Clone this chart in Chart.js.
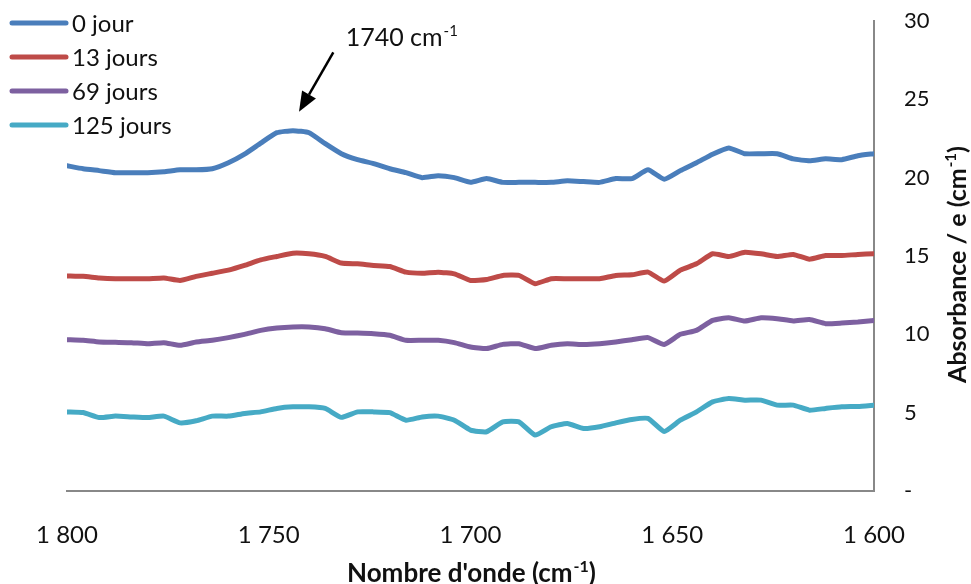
<!DOCTYPE html>
<html>
<head>
<meta charset="utf-8">
<script src="https://cdn.jsdelivr.net/npm/chart.js@4.4.0/dist/chart.umd.min.js"></script>
<style>
  html, body { margin: 0; padding: 0; background: #ffffff; }
  #wrap { width: 971px; height: 584px; }
</style>
</head>
<body>
<div id="wrap"><canvas id="spectraChart" width="971" height="584"></canvas></div>
<script>
// Wavenumbers in cm-1 (read every 4 cm-1, from 1800 down to 1600)
const wavenumbers = [
  1800, 1796, 1792, 1788, 1784, 1780, 1776, 1772, 1768, 1764,
  1760, 1756, 1752, 1748, 1744, 1740, 1736, 1732, 1728, 1724,
  1720, 1716, 1712, 1708, 1704, 1700, 1696, 1692, 1688, 1684,
  1680, 1676, 1672, 1668, 1664, 1660, 1656, 1652, 1648, 1644,
  1640, 1636, 1632, 1628, 1624, 1620, 1616, 1612, 1608, 1604, 1600
];

// Absorbance / e, one array per ageing time
const day0 = [
  20.76, 20.57, 20.45, 20.32, 20.32, 20.32, 20.38, 20.50, 20.50, 20.57,
  20.95, 21.50, 22.20, 22.87, 23.00, 22.87, 22.17, 21.53, 21.15, 20.90,
  20.57, 20.32, 20.00, 20.13, 20.00, 19.70, 19.94, 19.70, 19.70, 19.70,
  19.70, 19.80, 19.75, 19.70, 19.94, 19.94, 20.50, 19.90, 20.45, 20.95,
  21.50, 21.90, 21.53, 21.53, 21.53, 21.20, 21.08, 21.20, 21.15, 21.40, 21.53
];
const day13 = [
  13.73, 13.70, 13.60, 13.55, 13.55, 13.55, 13.60, 13.44, 13.70, 13.90,
  14.10, 14.40, 14.75, 14.97, 15.18, 15.14, 14.97, 14.55, 14.50, 14.40,
  14.33, 13.97, 13.90, 13.97, 13.86, 13.44, 13.50, 13.76, 13.76, 13.23,
  13.55, 13.55, 13.55, 13.55, 13.76, 13.80, 13.97, 13.40, 14.10, 14.50,
  15.14, 14.97, 15.24, 15.14, 14.97, 15.10, 14.80, 15.03, 15.03, 15.10, 15.14
];
const day69 = [
  9.66, 9.62, 9.51, 9.49, 9.47, 9.40, 9.47, 9.30, 9.51, 9.62,
  9.79, 10.00, 10.25, 10.40, 10.47, 10.47, 10.36, 10.10, 10.08, 10.04,
  9.94, 9.62, 9.62, 9.62, 9.47, 9.19, 9.09, 9.36, 9.40, 9.09,
  9.30, 9.40, 9.35, 9.40, 9.51, 9.66, 9.79, 9.35, 10.00, 10.25,
  10.89, 11.06, 10.85, 11.06, 11.00, 10.85, 10.94, 10.68, 10.72, 10.79, 10.89
];
const day125 = [
  5.05, 5.01, 4.69, 4.78, 4.73, 4.69, 4.78, 4.35, 4.48, 4.78,
  4.78, 4.95, 5.05, 5.27, 5.37, 5.37, 5.27, 4.70, 5.05, 5.05,
  5.00, 4.52, 4.73, 4.78, 4.52, 3.89, 3.78, 4.41, 4.41, 3.57,
  4.10, 4.31, 3.99, 4.10, 4.35, 4.57, 4.63, 3.80, 4.52, 5.05,
  5.69, 5.90, 5.80, 5.80, 5.48, 5.48, 5.16, 5.27, 5.37, 5.40, 5.48
];

const seriesLabels = ['0 jour', '13 jours', '69 jours', '125 jours'];
const seriesColors = ['#4a7ebb', '#be4b48', '#7d60a0', '#46aac5'];

// Annotation: arrow pointing at the carbonyl peak
const peakLabel = '1740';
const arrowTip = { x: 1742.5, y: 24.2 };
const arrowTail = { x: 1734, y: 28.0 };

const FONT = 'Lato, "Open Sans", "DejaVu Sans", sans-serif';

// format 1800 -> "1 800"
function frNumber(v) {
  return String(v).replace(/\B(?=(\d{3})+(?!\d))/g, ' ');
}

// draw text with a "-1" superscript after it, centred on x
function drawWithSup(ctx, main, sup, tail, x, y, size, weight) {
  ctx.font = weight + ' ' + size + 'px ' + FONT;
  const wMain = ctx.measureText(main).width;
  const wTail = ctx.measureText(tail).width;
  ctx.font = weight + ' ' + Math.round(size * 0.6) + 'px ' + FONT;
  const wSup = ctx.measureText(sup).width;
  let left = x - (wMain + wSup + wTail) / 2;
  ctx.textAlign = 'left';
  ctx.textBaseline = 'alphabetic';
  ctx.font = weight + ' ' + size + 'px ' + FONT;
  ctx.fillText(main, left, y);
  ctx.font = weight + ' ' + Math.round(size * 0.6) + 'px ' + FONT;
  ctx.fillText(sup, left + wMain + 1, y - size * 0.4);
  ctx.font = weight + ' ' + size + 'px ' + FONT;
  ctx.fillText(tail, left + wMain + wSup + 1, y);
}

// legend, annotation and axis titles drawn on top of the chart
const overlay = {
  id: 'overlay',
  afterDraw(chart) {
    const ctx = chart.ctx;
    const xs = chart.scales.x;
    const ys = chart.scales.y;
    ctx.save();

    // legend in the top left corner
    chart.data.datasets.forEach((ds, i) => {
      const ly = 23 + i * 34;
      ctx.strokeStyle = ds.borderColor;
      ctx.lineWidth = 5;
      ctx.lineCap = 'round';
      ctx.beginPath();
      ctx.moveTo(12, ly);
      ctx.lineTo(66, ly);
      ctx.stroke();
      ctx.fillStyle = '#111';
      ctx.font = '24px ' + FONT;
      ctx.textAlign = 'left';
      ctx.textBaseline = 'middle';
      ctx.fillText(ds.label, 72, ly + 1);
    });

    // arrow + label
    const tx = xs.getPixelForValue(arrowTip.x);
    const ty = ys.getPixelForValue(arrowTip.y);
    const sx = xs.getPixelForValue(arrowTail.x);
    const sy = ys.getPixelForValue(arrowTail.y);
    const ang = Math.atan2(ty - sy, tx - sx);
    const headLen = 20, headW = 8;
    const bx = tx - headLen * Math.cos(ang);
    const by = ty - headLen * Math.sin(ang);
    ctx.strokeStyle = '#000';
    ctx.fillStyle = '#000';
    ctx.lineWidth = 2.5;
    ctx.lineCap = 'butt';
    ctx.beginPath();
    ctx.moveTo(sx, sy);
    ctx.lineTo(bx, by);
    ctx.stroke();
    ctx.beginPath();
    ctx.moveTo(tx, ty);
    ctx.lineTo(bx + headW * Math.sin(ang), by - headW * Math.cos(ang));
    ctx.lineTo(bx - headW * Math.sin(ang), by + headW * Math.cos(ang));
    ctx.closePath();
    ctx.fill();
    ctx.fillStyle = '#111';
    drawWithSup(ctx, peakLabel + ' cm', '-1', '', sx + 68, sy - 6, 25, 'normal');

    // x axis title
    ctx.fillStyle = '#111';
    drawWithSup(ctx, "Nombre d'onde (cm", '-1', ')', 471, 582, 26, 'bold');

    // y axis title, rotated, reading bottom to top
    ctx.translate(957, 265);
    ctx.rotate(-Math.PI / 2);
    drawWithSup(ctx, 'Absorbance / e (cm', '-1', ')', 0, 9, 25, 'bold');

    ctx.restore();
  }
};

const datasets = [day0, day13, day69, day125].map((vals, i) => ({
  label: seriesLabels[i],
  data: wavenumbers.map((w, j) => ({ x: w, y: vals[j] })),
  borderColor: seriesColors[i],
  backgroundColor: seriesColors[i],
  borderWidth: 5,
  borderCapStyle: 'round',
  borderJoinStyle: 'round',
  pointRadius: 0,
  tension: 0.15,
  fill: false
}));

const ctx = document.getElementById('spectraChart').getContext('2d');
new Chart(ctx, {
  type: 'line',
  data: { datasets },
  options: {
    responsive: false,
    animation: false,
    layout: { padding: { left: 67, top: 21, right: 0, bottom: 0 } },
    plugins: {
      legend: { display: false },
      tooltip: { enabled: false }
    },
    scales: {
      x: {
        type: 'linear',
        reverse: true,
        min: 1600,
        max: 1800,
        afterFit: (s) => { s.height = 93; },
        grid: { display: false, drawTicks: false },
        border: { display: true, color: '#888', width: 2 },
        ticks: {
          stepSize: 50,
          padding: 30,
          color: '#111',
          font: { family: FONT, size: 24 },
          maxRotation: 0,
          callback: (v) => frNumber(v)
        }
      },
      y: {
        position: 'right',
        min: 0,
        max: 30,
        afterFit: (s) => { s.width = 97; s.paddingTop = 0; s.paddingBottom = 0; },
        grid: { display: false, drawTicks: false },
        border: { display: true, color: '#888', width: 2 },
        ticks: {
          stepSize: 5,
          padding: 30,
          color: '#111',
          font: { family: FONT, size: 22 },
          callback: (v) => (v === 0 ? '-' : v)
        }
      }
    }
  },
  plugins: [overlay]
});
</script>
</body>
</html>
